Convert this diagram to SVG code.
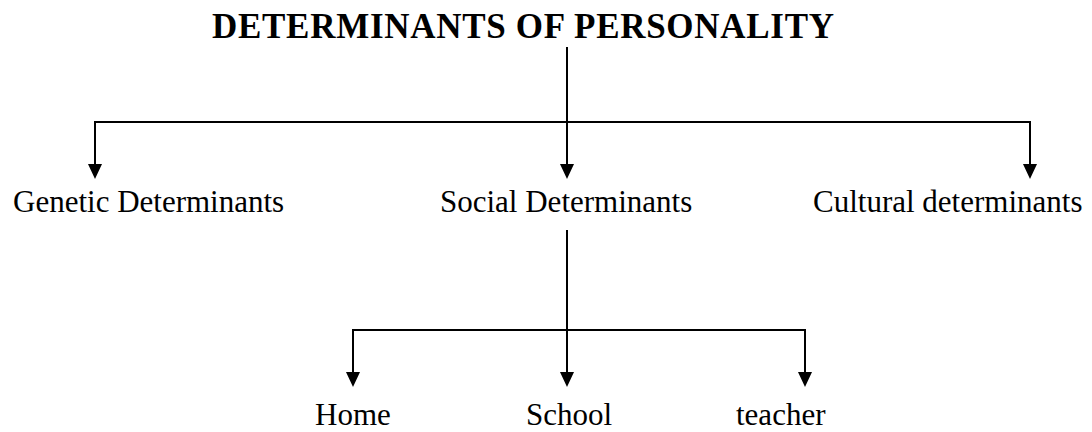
<svg xmlns="http://www.w3.org/2000/svg" width="1092" height="432" viewBox="0 0 1092 432">
<style>
.t{font-family:"Liberation Serif","Times New Roman",serif;font-size:31px;fill:#000}
.h{font-family:"Liberation Serif","Times New Roman",serif;font-size:35px;font-weight:bold;fill:#000}
.c{stroke:#000;stroke-width:2;fill:none}
.a{fill:#000}
</style>
<rect width="1092" height="432" fill="#fff"/>
<g id="connectors">
<line class="c" x1="567" y1="47" x2="567" y2="122"/>
<line class="c" x1="94" y1="122" x2="1031" y2="122"/>
<path class="c" d="M95,121 V164"/>
<path class="a" d="M88,164 L102,164 L95,179 Z"/>
<path class="c" d="M567,122 V164"/>
<path class="a" d="M560,164 L574,164 L567,179 Z"/>
<path class="c" d="M1030,121 V164"/>
<path class="a" d="M1023,164 L1037,164 L1030,179 Z"/>
<line class="c" x1="567" y1="230" x2="567" y2="330"/>
<line class="c" x1="352" y1="330" x2="806" y2="330"/>
<path class="c" d="M353,329 V372"/>
<path class="a" d="M346,372 L360,372 L353,387 Z"/>
<path class="c" d="M567,330 V372"/>
<path class="a" d="M560,372 L574,372 L567,387 Z"/>
<path class="c" d="M805,329 V372"/>
<path class="a" d="M798,372 L812,372 L805,387 Z"/>
</g>
<g id="title"><text class="h" x="212" y="38" textLength="622">DETERMINANTS OF PERSONALITY</text></g>
<g id="genetic"><text class="t" x="13" y="212">Genetic Determinants</text></g>
<g id="social"><text class="t" x="440" y="212">Social Determinants</text></g>
<g id="cultural"><text class="t" x="813" y="212">Cultural determinants</text></g>
<g id="home"><text class="t" x="315" y="425">Home</text></g>
<g id="school"><text class="t" x="526" y="425">School</text></g>
<g id="teacher"><text class="t" x="736" y="425">teacher</text></g>
</svg>
